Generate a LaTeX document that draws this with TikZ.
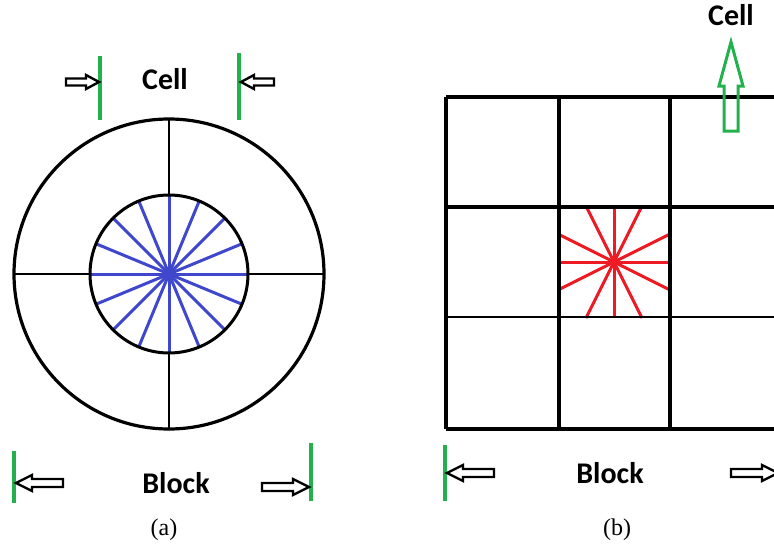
\documentclass[tikz,border=0pt]{standalone}
\usepackage{fontspec}
\setmainfont{Liberation Serif}
\newfontfamily\labelfont{Carlito}
\definecolor{paintgreen}{RGB}{34,177,76}
\definecolor{spokeblue}{RGB}{63,72,204}
\definecolor{spokered}{RGB}{237,28,36}
\tikzset{
  tag/.style={font=\labelfont\bfseries\fontsize{30}{36}\selectfont},
  caption/.style={font=\fontsize{24}{28}\selectfont},
  marker/.style={paintgreen,line width=3.2pt},
  gridline/.style={line width=3.8pt},
  pics/fatarrow/.style args={#1/#2/#3/#4}{code={
    \draw[line join=miter] (-#1,-#4) -- (-#2,-#4) -- (-#2,-#3) -- (0,0)
      -- (-#2,#3) -- (-#2,#4) -- (-#1,#4) -- cycle;
  }}
}
\begin{document}
\begin{tikzpicture}[x=1pt,y=-1pt]
  \useasboundingbox (0,0) rectangle (774,554);
  % (a) circular block
  \coordinate (oa) at (169,274);
  \foreach \a in {0,22.5,...,337.5}
    \draw[spokeblue,line width=3pt] (oa) -- ++(\a:79);
  \draw[line width=3.2pt] (oa) circle (155);
  \draw[line width=3pt] (oa) circle (79);
  \draw[line width=2.6pt] (169,119) -- (169,195) (169,353) -- (169,429);
  \draw[line width=2.6pt] (14,274) -- (90,274) (248,274) -- (324,274);
  \node[tag] (cella) at (165,79) {Cell};
  \draw[marker] (100,56) -- (100,120);
  \draw[marker] (239,53) -- (239,120);
  \pic[line width=2.4pt] at (99,82) {fatarrow=33/13/7/3.5};
  \pic[line width=2.4pt,rotate=180] at (241,82) {fatarrow=33/13/7/3.5};
  \node[tag] (blocka) at (176,483) {Block};
  \draw[marker] (14,451) -- (14,503);
  \draw[marker] (311,443) -- (311,501);
  \pic[line width=2.4pt,rotate=180] at (16,483) {fatarrow=47/16/8/4};
  \pic[line width=2.4pt] at (309,487) {fatarrow=47/16/8/4};
  \node[caption] (capa) at (164,530) {(a)};
  % (b) square grid block
  \coordinate (ob) at (614,262);
  \foreach \dx/\dy in {56/0,56/28,28/56,0/56,-28/56,-56/28,-56/0,-56/-28,-28/-56,0/-56,28/-56,56/-28}
    \draw[spokered,line width=3pt] (ob) -- ++(\dx,\dy);
  \foreach \y in {97,207,429}
    \draw[gridline] (446,\y) -- (776,\y);
  \draw[line width=1.8pt] (446,317) -- (776,317);
  \foreach \x in {446,559,670}
    \draw[gridline] (\x,97) -- (\x,429);
  \node[tag,anchor=center] (cellb) at (731,15) {Cell};
  \pic[paintgreen,line width=3pt,rotate=90] at (731,42) {fatarrow=89/44/12/7};
  \node[tag] (blockb) at (610,473) {Block};
  \draw[marker] (445,445) -- (445,501);
  \pic[line width=2.4pt,rotate=180] at (447,473) {fatarrow=47/16/8/4};
  \pic[line width=2.4pt] at (778,473) {fatarrow=47/16/8/4};
  \node[caption] (capb) at (617,530) {(b)};
\end{tikzpicture}
\end{document}
